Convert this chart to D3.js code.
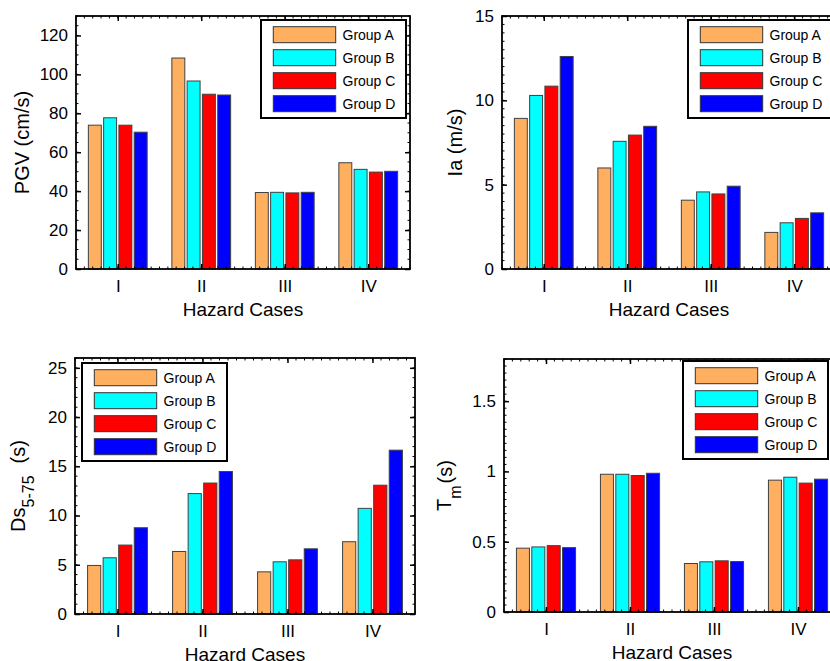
<!DOCTYPE html>
<html>
<head>
<meta charset="utf-8">
<script src="https://cdn.jsdelivr.net/npm/d3@7"></script>
<style>
  body { margin: 0; background: #fff; }
  text { font-family: "Liberation Sans", Arial, Helvetica, sans-serif; fill: #000; }
</style>
</head>
<body>
<svg id="drawing_region"></svg>
<script>
// data (rows = Group A..D, columns = Hazard Cases I..IV)
const categories = ['I', 'II', 'III', 'IV'];
const groups = ['Group A', 'Group B', 'Group C', 'Group D'];
const colors = ['#FFAF60', '#00FFFF', '#FF0000', '#0000FF'];

const pgv = [
    [73.9, 108.4, 39.3, 54.6],
    [77.7, 96.6, 39.4, 51.2],
    [73.9, 89.8, 39.1, 49.8],
    [70.3, 89.4, 39.4, 50.2]
];
const ia = [
    [8.93, 5.99, 4.08, 2.17],
    [10.29, 7.57, 4.57, 2.74],
    [10.84, 7.94, 4.45, 3.00],
    [12.60, 8.46, 4.91, 3.33]
];
const ds = [
    [4.93, 6.35, 4.28, 7.34],
    [5.71, 12.23, 5.30, 10.73],
    [7.00, 13.30, 5.50, 13.08],
    [8.76, 14.47, 6.62, 16.64]
];
const tm = [
    [0.454, 0.980, 0.345, 0.938],
    [0.463, 0.980, 0.357, 0.959],
    [0.472, 0.971, 0.364, 0.917],
    [0.458, 0.987, 0.359, 0.945]
];

const pgvTicks = [0, 20, 40, 60, 80, 100, 120];
const iaTicks = [0, 5, 10, 15];
const dsTicks = [0, 5, 10, 15, 20, 25];
const tmTicks = [0, 0.5, 1, 1.5];

const width = 830;
const height = 661;

const svg = d3.select('#drawing_region')
    .attr('width', width)
    .attr('height', height);

svg.append('rect').attr('width', width).attr('height', height).attr('fill', '#fff');

// panel layout (pixels)
const panels = [
    { data: pgv, ymax: 130, ticks: pgvTicks, minor: 5, left: 76, right: 410, top: 16, bottom: 269,
      label: [{ t: 'PGV (cm/s)' }], labelX: 22, legend: { dx: 185, dy: 4 } },
    { data: ia, ymax: 15, ticks: iaTicks, minor: 0.5, left: 502, right: 836, top: 16, bottom: 269,
      label: [{ t: 'Ia (m/s)' }], labelX: 455, legend: { dx: 186, dy: 4 } },
    { data: ds, ymax: 26, ticks: dsTicks, minor: 1, left: 75, right: 415, top: 358, bottom: 614,
      label: [{ t: 'Ds' }, { t: '5-75', sub: 9 }, { t: '(s)', dx: 12 }], labelX: 25, legend: { dx: 7, dy: 5 } },
    { data: tm, ymax: 1.8, ticks: tmTicks, minor: 0.05, left: 504, right: 840, top: 359, bottom: 612,
      label: [{ t: 'T' }, { t: 'm', sub: 10 }, { t: '(s)', dx: 2 }], labelX: 451, legend: { dx: 179, dy: 2 } }
];

const barStep = 0.183;
const barWidth = 0.155;

panels.forEach(p => drawPanel(p));

function drawPanel(p) {
    const g = svg.append('g');

    const x = d3.scaleLinear().domain([0.5, 4.5]).range([p.left, p.right]);
    const y = d3.scaleLinear().domain([0, p.ymax]).range([p.bottom, p.top]);
    const bw = x(1 + barWidth) - x(1);

    // bars
    p.data.forEach((row, gi) => {
        g.selectAll(null)
            .data(row)
            .enter()
            .append('rect')
            .attr('x', (d, ci) => x(ci + 1 + (gi - 1.5) * barStep) - bw / 2)
            .attr('y', d => y(d))
            .attr('width', bw)
            .attr('height', d => y(0) - y(d))
            .attr('fill', colors[gi])
            .attr('stroke', '#404040')
            .attr('stroke-width', 1);
    });

    // minor ticks (inward, all four sides)
    const yMinor = d3.range(0, p.ymax + 1e-9, p.minor);
    const xMinor = d3.range(0.5, 4.5 + 1e-9, 0.1);
    const minor = g.append('g').attr('stroke', '#000').attr('stroke-width', 1);
    yMinor.forEach(v => {
        minor.append('line').attr('x1', p.left).attr('x2', p.left + 2.5).attr('y1', y(v)).attr('y2', y(v));
        minor.append('line').attr('x1', p.right).attr('x2', p.right - 2.5).attr('y1', y(v)).attr('y2', y(v));
    });
    xMinor.forEach(v => {
        minor.append('line').attr('x1', x(v)).attr('x2', x(v)).attr('y1', p.top).attr('y2', p.top + 2.5);
        minor.append('line').attr('x1', x(v)).attr('x2', x(v)).attr('y1', p.bottom).attr('y2', p.bottom - 2.5);
    });

    // major axes
    const yAxis = d3.axisLeft(y).tickValues(p.ticks).tickSizeInner(-5).tickSizeOuter(0)
        .tickPadding(8).tickFormat(d => d);
    const xAxis = d3.axisBottom(x).tickValues([1, 2, 3, 4]).tickSizeInner(-5).tickSizeOuter(0)
        .tickPadding(11).tickFormat((d, i) => categories[i]);

    const ya = g.append('g').attr('transform', `translate(${p.left},0)`).call(yAxis);
    g.append('g').attr('transform', `translate(${p.right},0)`)
        .call(d3.axisRight(y).tickValues(p.ticks).tickSizeInner(-5).tickSizeOuter(0).tickFormat(''));
    const xa = g.append('g').attr('transform', `translate(0,${p.bottom})`).call(xAxis);
    g.append('g').attr('transform', `translate(0,${p.top})`)
        .call(d3.axisTop(x).tickValues([1, 2, 3, 4]).tickSizeInner(-5).tickSizeOuter(0).tickFormat(''));

    g.selectAll('.domain').remove();
    g.selectAll('.tick line').attr('stroke', '#000').attr('stroke-width', 1.5);
    ya.selectAll('text').style('font-size', '17px').style('font-family', null).attr('fill', '#000');
    xa.selectAll('text').style('font-size', '17px').style('font-family', null).attr('fill', '#000');

    // frame
    g.append('rect')
        .attr('x', p.left).attr('y', p.top)
        .attr('width', p.right - p.left).attr('height', p.bottom - p.top)
        .attr('fill', 'none').attr('stroke', '#000').attr('stroke-width', 1.8);

    // x label
    g.append('text')
        .attr('x', (p.left + p.right) / 2)
        .attr('y', p.bottom + 47)
        .attr('text-anchor', 'middle')
        .style('font-size', '19px')
        .text('Hazard Cases');

    // y label (rotated, with optional subscript)
    const yl = g.append('text')
        .attr('transform', `translate(${p.labelX},${(p.top + p.bottom) / 2}) rotate(-90)`)
        .attr('text-anchor', 'middle')
        .attr('dy', p.label.length > 1 ? 0 : 7)
        .style('font-size', '20px');
    p.label.forEach(part => {
        const ts = yl.append('tspan').text(part.t);
        if (part.sub) ts.attr('dy', part.sub).style('font-size', '16px');
        if (part.dx !== undefined) ts.attr('dx', part.dx).attr('dy', -9);
    });

    // legend
    const lx = p.left + p.legend.dx;
    const ly = p.top + p.legend.dy;
    const lg = g.append('g').attr('transform', `translate(${lx},${ly})`);
    lg.append('rect').attr('width', 145).attr('height', 98)
        .attr('fill', '#fff').attr('stroke', '#000').attr('stroke-width', 2);
    groups.forEach((name, gi) => {
        lg.append('rect')
            .attr('x', 12.3).attr('y', 6.7 + gi * 23)
            .attr('width', 62.4).attr('height', 16)
            .attr('fill', colors[gi]).attr('stroke', '#333').attr('stroke-width', 1);
        lg.append('text')
            .attr('x', 81.5).attr('y', 6.7 + gi * 23 + 13)
            .style('font-size', '14px')
            .text(name);
    });
}
</script>
</body>
</html>
